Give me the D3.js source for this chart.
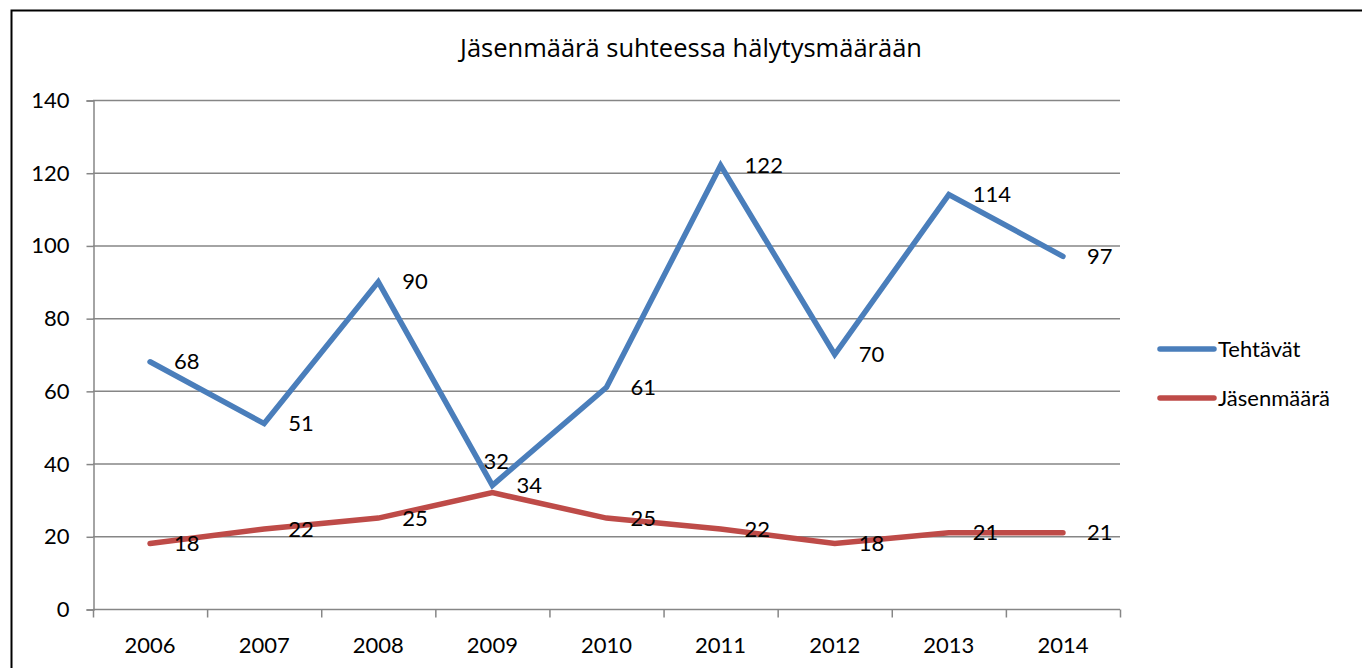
<!DOCTYPE html>
<html lang="fi">
<head>
<meta charset="UTF-8">
<title>Jäsenmäärä suhteessa hälytysmäärään</title>
<style>
  body { margin: 0; background: #fff; }
  svg text { font-family: Lato, "Open Sans", sans-serif; fill: #000; }
</style>
</head>
<body>
<div id="chart"></div>
<script src="https://d3js.org/d3.v7.min.js"></script>
<script>
// data
const years = ["2006", "2007", "2008", "2009", "2010", "2011", "2012", "2013", "2014"];
const tehtavat = [68, 51, 90, 34, 61, 122, 70, 114, 97];
const jasenmaara = [18, 22, 25, 32, 25, 22, 18, 21, 21];
const yTicks = [0, 20, 40, 60, 80, 100, 120, 140];
const seriesNames = ["Tehtävät", "Jäsenmäärä"];
const colors = ["#4a7ebb", "#be4b48"];

const W = 1362, H = 668;
const plot = { left: 93, right: 1120, top: 100, bottom: 609 };

const svg = d3.select("#chart").append("svg")
    .attr("width", W)
    .attr("height", H);

// outer frame (only top and left edges visible in the picture)
svg.append("path")
    .attr("d", `M11.5,${H} V10.5 H${W}`)
    .attr("fill", "none")
    .attr("stroke", "#000")
    .attr("stroke-width", 2);

svg.append("text")
    .attr("x", 691)
    .attr("y", 57)
    .attr("text-anchor", "middle")
    .style("font-family", "'Open Sans', sans-serif")
    .style("font-size", "25.5px")
    .text("Jäsenmäärä suhteessa hälytysmäärään");

const x = d3.scaleBand().domain(years).range([plot.left, plot.right]);
const y = d3.scaleLinear().domain([0, 140]).range([plot.bottom, plot.top]);
const cx = d => x(d) + x.bandwidth() / 2;

// gridlines
svg.append("g")
    .selectAll("line")
    .data(yTicks.filter(t => t > 0))
    .join("line")
    .attr("x1", plot.left).attr("x2", plot.right)
    .attr("y1", d => y(d) + 0.5).attr("y2", d => y(d) + 0.5)
    .attr("stroke", "#868686")
    .attr("stroke-width", 1.5);

// y axis
const yAxis = svg.append("g")
    .attr("transform", `translate(${plot.left + 0.5},0.5)`)
    .call(d3.axisLeft(y).tickValues(yTicks).tickSize(7).tickPadding(17));
yAxis.select(".domain").attr("stroke", "#868686").attr("stroke-width", 1.5);
yAxis.selectAll(".tick line").attr("stroke", "#868686").attr("stroke-width", 1.5);
yAxis.selectAll(".tick text").style("font-size", "22px").style("font-family", "Lato, sans-serif");

// x axis: ticks between categories
const xAxis = svg.append("g")
    .attr("transform", `translate(0,${plot.bottom + 0.5})`);
xAxis.append("line")
    .attr("x1", plot.left).attr("x2", plot.right)
    .attr("stroke", "#868686").attr("stroke-width", 1.5);
const bounds = years.map(d => x(d)).concat([plot.right]);
xAxis.selectAll("line.tk")
    .data(bounds)
    .join("line")
    .attr("class", "tk")
    .attr("x1", d => d + 0.5).attr("x2", d => d + 0.5)
    .attr("y1", 0).attr("y2", 8)
    .attr("stroke", "#868686").attr("stroke-width", 1.5);
xAxis.selectAll("text")
    .data(years)
    .join("text")
    .attr("x", d => cx(d))
    .attr("y", 43)
    .attr("text-anchor", "middle")
    .style("font-size", "22px")
    .text(d => d);

// lines
const allSeries = [tehtavat, jasenmaara];
const line = d3.line()
    .x((d, i) => cx(years[i]))
    .y(d => y(d));

allSeries.forEach((vals, s) => {
    svg.append("path")
        .datum(vals)
        .attr("d", line)
        .attr("fill", "none")
        .attr("stroke", colors[s])
        .attr("stroke-width", 5.5)
        .attr("stroke-linecap", "round")
        .attr("stroke-linejoin", "miter");
});

// data labels, to the right of each point (the red 2009 one sits above)
allSeries.forEach((vals, s) => {
    svg.append("g")
        .selectAll("text")
        .data(vals)
        .join("text")
        .attr("x", (d, i) => cx(years[i]) + (s === 1 && i === 3 ? -9 : 24))
        .attr("y", (d, i) => y(d) + (s === 1 && i === 3 ? -31 : 0))
        .attr("dy", "0.35em")
        .style("font-size", "22px")
        .text(d => d);
});

// legend
const legend = svg.append("g")
    .selectAll("g")
    .data(seriesNames)
    .join("g")
    .attr("transform", (d, i) => `translate(1160,${349 + i * 49})`);
legend.append("line")
    .attr("x1", 0).attr("x2", 54)
    .attr("stroke", (d, i) => colors[i])
    .attr("stroke-width", 5.5)
    .attr("stroke-linecap", "round");
legend.append("text")
    .attr("x", 58)
    .attr("dy", "0.35em")
    .style("font-size", "22px")
    .text(d => d);
</script>
</body>
</html>
